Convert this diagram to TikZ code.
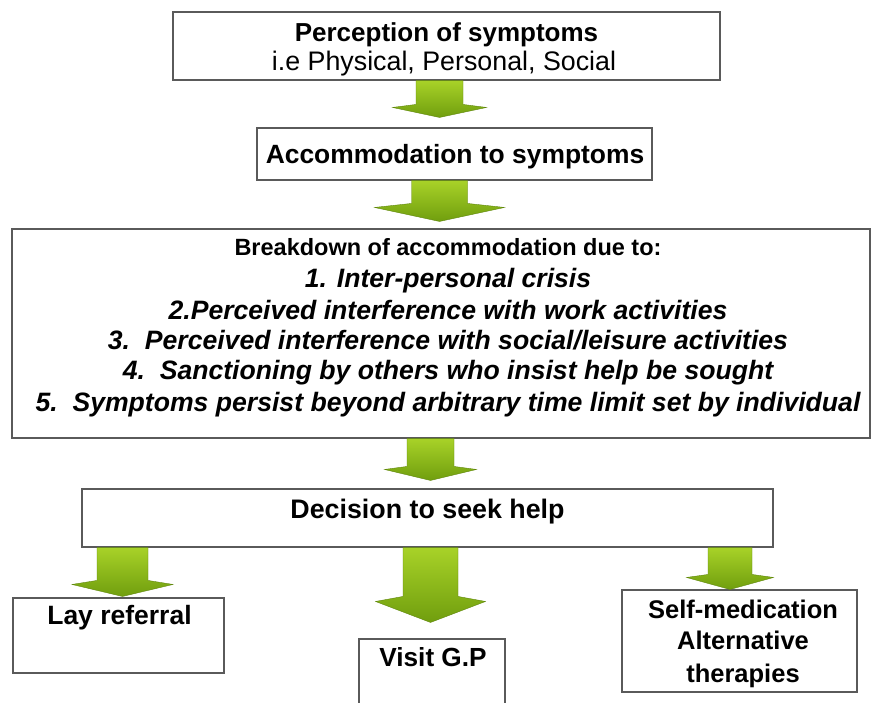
\documentclass[tikz,border=0pt]{standalone}
\usepackage{fontspec}
\setmainfont{Liberation Sans}
\usetikzlibrary{calc}
\definecolor{glight}{RGB}{168,210,40}
\definecolor{gdark}{RGB}{112,158,14}
\definecolor{boxline}{RGB}{90,90,90}
\tikzset{
  box/.style={draw=boxline, line width=1.1pt, rectangle, inner sep=0pt},
  txt/.style={anchor=base, inner sep=0pt, text=black},
  arrowbody/.style={top color=glight, bottom color=gdark, draw=gdark!85!black, line width=0.4pt},
}
% #1 start, #2 tip, #3 shaft half width, #4 head half width, #5 head length, #6 shoulder rise
\newcommand\garrow[6]{%
  \path[arrowbody] ($(#1)+(-#3,0)$) -- ($(#1)+(#3,0)$)
    -- ($(#2)+(#3,{-(#5+#6)})$) -- ($(#2)+(#4,-#5)$) -- (#2)
    -- ($(#2)+(-#4,-#5)$) -- ($(#2)+(-#3,{-(#5+#6)})$) -- cycle;}
\newcommand\fs[1]{\fontsize{#1}{#1}\selectfont}
\begin{document}
\begin{tikzpicture}[x=1pt,y=-1pt]
\useasboundingbox[fill=white] (0,0) rectangle (872,702);
% boxes
\node[box, minimum width=547, minimum height=68]  (b1) at (446.5,46) {};
\node[box, minimum width=395, minimum height=52]  (b2) at (454.5,154) {};
\node[box, minimum width=858, minimum height=209] (b3) at (441,333.5) {};
\node[box, minimum width=691, minimum height=58]  (b4) at (427.5,518) {};
\node[box, minimum width=211, minimum height=75]  (b5) at (118.5,635.5) {};
\node[box, minimum width=146, minimum height=73]  (b6) at (432,675.5) {};
\node[box, minimum width=235, minimum height=102] (b7) at (739.5,641) {};
% texts
\node[txt] (t1a) at (446.5,41) {\fs{26}\bfseries Perception of symptoms};
\node[txt] (t1b) at (444,70) {\fs{26.8}i.e Physical, Personal, Social};
\node[txt] (t2) at (455,163) {\fs{26.4}\bfseries Accommodation to symptoms};
\node[txt] (t3h) at (448,255.5) {\fs{23.5}\bfseries Breakdown of accommodation due to:};
\node[txt] (t3a) at (448,287.5) {\fs{26.6}\bfseries\itshape 1. Inter-personal crisis};
\node[txt] (t3b) at (448,319) {\fs{26.6}\bfseries\itshape 2.Perceived interference with work activities};
\node[txt] (t3c) at (448,349.5) {\fs{26.6}\bfseries\itshape 3.\ \ Perceived interference with social/leisure activities};
\node[txt] (t3d) at (448,379.5) {\fs{26.6}\bfseries\itshape 4.\ \ Sanctioning by others who insist help be sought};
\node[txt] (t3e) at (448,411) {\fs{26.6}\bfseries\itshape 5.\ \ Symptoms persist beyond arbitrary time limit set by individual};
\node[txt] (t4) at (427.5,518.5) {\fs{26.8}\bfseries Decision to seek help};
\node[txt] (t5) at (119.5,624.5) {\fs{26.5}\bfseries Lay referral};
\node[txt] (t6) at (433,666.5) {\fs{26.2}\bfseries Visit G.P};
\node[txt] (t7a) at (743,618) {\fs{25.5}\bfseries Self-medication};
\node[txt] (t7b) at (743,649.5) {\fs{25.5}\bfseries Alternative};
\node[txt] (t7c) at (743,682.5) {\fs{25.5}\bfseries therapies};
% arrow anchor x positions
\coordinate (x1) at (439.5,0);
\coordinate (x3) at (430.5,0);
\coordinate (x4) at (122.5,0);
\coordinate (x6) at (730,0);
% arrow ends
\coordinate (a1s) at (b1.south -| x1);
\coordinate (a1e) at ($(b2.north -| x1)+(0,-10)$);
\coordinate (a2s) at (b2.south -| x1);
\coordinate (a2e) at ($(b3.north -| x1)+(0,-7)$);
\coordinate (a3s) at (b3.south -| x3);
\coordinate (a3e) at ($(b4.north -| x3)+(0,-8)$);
\coordinate (a4s) at (b4.south -| x4);
\coordinate (a4e) at ($(b5.north -| x4)+(0,-1)$);
\coordinate (a5s) at (b4.south -| x3);
\coordinate (a5e) at ($(b6.north -| x3)+(0,-16)$);
\coordinate (a6s) at (b4.south -| x6);
\coordinate (a6e) at (b7.north -| x6);
% arrows
\garrow{a1s}{a1e}{23.5}{47}{10}{3}
\garrow{a2s}{a2e}{28}{65}{14}{4}
\garrow{a3s}{a3e}{23.5}{46}{11}{3}
\garrow{a4s}{a4e}{25.5}{50.5}{12}{4}
\garrow{a5s}{a5e}{27.5}{55}{21}{5}
\garrow{a6s}{a6e}{22}{43.5}{12}{3}
\end{tikzpicture}
\end{document}
